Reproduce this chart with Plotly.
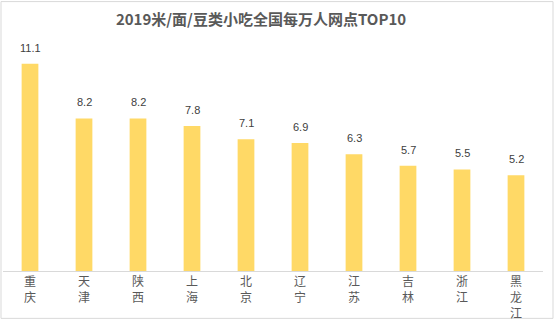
import plotly.graph_objects as go

cities = ["重庆", "天津", "陕西", "上海", "北京", "辽宁", "江苏", "吉林", "浙江", "黑龙江"]
values = [11.1, 8.2, 8.2, 7.8, 7.1, 6.9, 6.3, 5.7, 5.5, 5.2]
title = "2019米/面/豆类小吃全国每万人网点TOP10"

tick_text = ["<br>".join(list(c)) for c in cities]

fig = go.Figure(go.Bar(
    x=cities, y=values,
    marker=dict(color="#FFD966", line=dict(width=0)),
))

for c, v in zip(cities, values):
    fig.add_annotation(x=c, y=v, text=f"{v:.1f}", showarrow=False, yanchor="bottom",
                       yshift=8, font=dict(size=11, color="#404040",
                                           family="Liberation Sans, Arial, sans-serif"))

W, H = 555, 324
l, r, t, b = 3, 12, 47, 50
pw, ph = W - l - r, H - t - b

def px_x(p):
    return (p - l) / pw

def px_y(p):
    return (H - b - p) / ph

fig.update_layout(
    width=W, height=H,
    margin=dict(l=l, r=r, t=t, b=b),
    paper_bgcolor="white", plot_bgcolor="white",
    bargap=0.69,
    showlegend=False,
    title=dict(text=f"<b>{title}</b>", x=261 / W, xanchor="center", y=1 - 20 / H, yanchor="middle",
               font=dict(size=15, color="#595959", family="Noto Sans CJK SC, sans-serif")),
    xaxis=dict(tickvals=cities, ticktext=tick_text, showline=True, linecolor="#D9D9D9", linewidth=1,
               ticks="", tickfont=dict(size=12, color="#595959", family="Noto Sans CJK SC, sans-serif"),
               showgrid=False),
    yaxis=dict(range=[0.13, 11.98], visible=False, showgrid=False),
    shapes=[dict(type="rect", xref="paper", yref="paper",
                 x0=px_x(1), x1=px_x(553), y0=px_y(322), y1=px_y(1),
                 line=dict(color="#D9D9D9", width=1), fillcolor="rgba(0,0,0,0)", layer="below")],
    font=dict(family="Noto Sans CJK SC, sans-serif"),
)

fig.write_html("out.html")
